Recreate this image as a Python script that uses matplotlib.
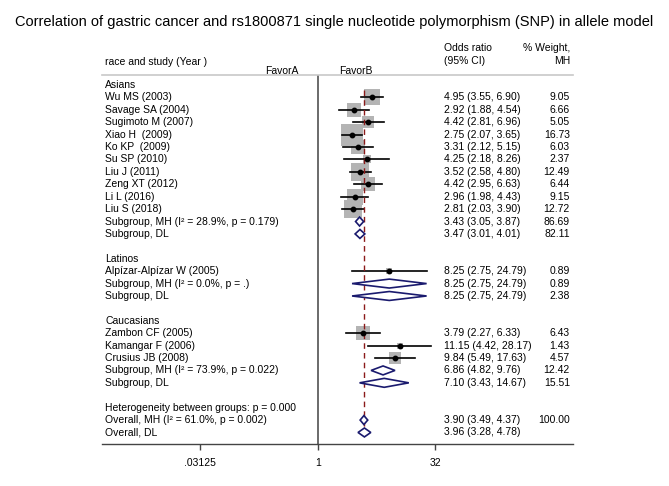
import matplotlib.pyplot as plt
import numpy as np

plt.rcParams['font.family'] = ['Liberation Sans', 'DejaVu Sans']

title = "Correlation of gastric cancer and rs1800871 single nucleotide polymorphism (SNP) in allele model"

# one entry per row of the forest plot (blank rows are gaps)
row_labels = ["Asians", "Wu MS (2003)", "Savage SA (2004)", "Sugimoto M (2007)", "Xiao H  (2009)",
              "Ko KP  (2009)", "Su SP (2010)", "Liu J (2011)", "Zeng XT (2012)", "Li L (2016)",
              "Liu S (2018)", "Subgroup, MH (I\u00b2 = 28.9%, p = 0.179)", "Subgroup, DL", "",
              "Latinos", "Alpízar-Alpízar W (2005)", "Subgroup, MH (I\u00b2 = 0.0%, p = .)", "Subgroup, DL", "",
              "Caucasians", "Zambon CF (2005)", "Kamangar F (2006)", "Crusius JB (2008)",
              "Subgroup, MH (I\u00b2 = 73.9%, p = 0.022)", "Subgroup, DL", "",
              "Heterogeneity between groups: p = 0.000", "Overall, MH (I\u00b2 = 61.0%, p = 0.002)", "Overall, DL"]
row_kind = ["group", "study", "study", "study", "study", "study", "study", "study", "study", "study",
            "study", "pool", "pool", "blank",
            "group", "study", "pool", "pool", "blank",
            "group", "study", "study", "study", "pool", "pool", "blank",
            "group", "pool", "pool"]
odds = [np.nan, 4.95, 2.92, 4.42, 2.75, 3.31, 4.25, 3.52, 4.42, 2.96, 2.81, 3.43, 3.47, np.nan,
        np.nan, 8.25, 8.25, 8.25, np.nan,
        np.nan, 3.79, 11.15, 9.84, 6.86, 7.10, np.nan,
        np.nan, 3.90, 3.96]
ci_low = [np.nan, 3.55, 1.88, 2.81, 2.07, 2.12, 2.18, 2.58, 2.95, 1.98, 2.03, 3.05, 3.01, np.nan,
          np.nan, 2.75, 2.75, 2.75, np.nan,
          np.nan, 2.27, 4.42, 5.49, 4.82, 3.43, np.nan,
          np.nan, 3.49, 3.28]
ci_high = [np.nan, 6.90, 4.54, 6.96, 3.65, 5.15, 8.26, 4.80, 6.63, 4.43, 3.90, 3.87, 4.01, np.nan,
           np.nan, 24.79, 24.79, 24.79, np.nan,
           np.nan, 6.33, 28.17, 17.63, 9.76, 14.67, np.nan,
           np.nan, 4.37, 4.78]
weights = [np.nan, 9.05, 6.66, 5.05, 16.73, 6.03, 2.37, 12.49, 6.44, 9.15, 12.72, 86.69, 82.11, np.nan,
           np.nan, 0.89, 0.89, 2.38, np.nan,
           np.nan, 6.43, 1.43, 4.57, 12.42, 15.51, np.nan,
           np.nan, 100.00, np.nan]
overall_or = 3.90
ticks = [0.03125, 1, 32]
tick_labels = [".03125", "1", "32"]

fig = plt.figure(figsize=(6.69, 4.86), dpi=100)
fig.text(0.5, 0.955, title, ha='center', va='center', fontsize=10.5)

ax = fig.add_axes([0.1525, 0.0864, 0.7036, 0.7593])
ax.set_xscale('log', base=2)
ax.set_xlim(2 ** -9.18, 2 ** 10.85)
ax.set_ylim(28.93, -0.81)

for s in ['left', 'right']:
    ax.spines[s].set_visible(False)
ax.spines['top'].set_color('#c8c8c8')
ax.spines['top'].set_linewidth(1.2)
ax.spines['bottom'].set_color('#444444')
ax.spines['bottom'].set_linewidth(1.0)
ax.set_yticks([])
ax.set_xticks(ticks)
ax.set_xticklabels(tick_labels)
ax.minorticks_off()
ax.tick_params(axis='x', length=4, width=1, color='#444444', pad=6, labelsize=7.5)

ax.axvline(1, color='#6a6a6a', lw=1.4, zorder=1)
ax.plot([overall_or, overall_or], [0.4, 28.3], color='#8b1a1a', lw=1.0, ls=(0, (4, 3)), zorder=4)

tl = ax.get_yaxis_transform()  # x axes fraction, y data
fs = 7.5
for i, (lab, kind) in enumerate(zip(row_labels, row_kind)):
    if kind == 'blank':
        continue
    ax.text(0.007, i, lab, transform=tl, ha='left', va='center', fontsize=fs)
    if not np.isnan(odds[i]):
        ax.text(0.7266, i, f"{odds[i]:.2f} ({ci_low[i]:.2f}, {ci_high[i]:.2f})", transform=tl,
                ha='left', va='center', fontsize=fs)
    if not np.isnan(weights[i]):
        ax.text(0.994, i, f"{weights[i]:.2f}", transform=tl, ha='right', va='center', fontsize=fs)
    if kind == 'study':
        side = 5.32 * np.sqrt(weights[i]) * 0.72
        ax.plot(odds[i], i, marker='s', ms=side, mew=0, color='#b4b4b4', zorder=2)
        ax.plot([ci_low[i], ci_high[i]], [i, i], color='black', lw=1.2, zorder=3)
        ax.plot(odds[i], i, marker='o', ms=3.2, color='black', zorder=5)
    elif kind == 'pool':
        h = 0.36
        ax.fill([ci_low[i], odds[i], ci_high[i], odds[i]], [i, i - h, i, i + h],
                facecolor='white', edgecolor='#1a1a6e', lw=1.2, zorder=5)

# header texts
ax.text(0.007, -1.88, "race and study (Year )", transform=tl, ha='left', va='center', fontsize=fs, clip_on=False)
ax.text(2 ** -0.8, -1.15, "FavorA", transform=ax.transData, ha='right', va='center', fontsize=fs, clip_on=False)
ax.text(2 ** 0.9, -1.15, "FavorB", transform=ax.transData, ha='left', va='center', fontsize=fs, clip_on=False)
ax.text(0.7266, -2.95, "Odds ratio", transform=tl, ha='left', va='center', fontsize=fs, clip_on=False)
ax.text(0.7266, -1.93, "(95% CI)", transform=tl, ha='left', va='center', fontsize=fs, clip_on=False)
ax.text(0.994, -2.95, "% Weight,", transform=tl, ha='right', va='center', fontsize=fs, clip_on=False)
ax.text(0.994, -1.93, "MH", transform=tl, ha='right', va='center', fontsize=fs, clip_on=False)

fig.savefig('out.png', dpi=100)
